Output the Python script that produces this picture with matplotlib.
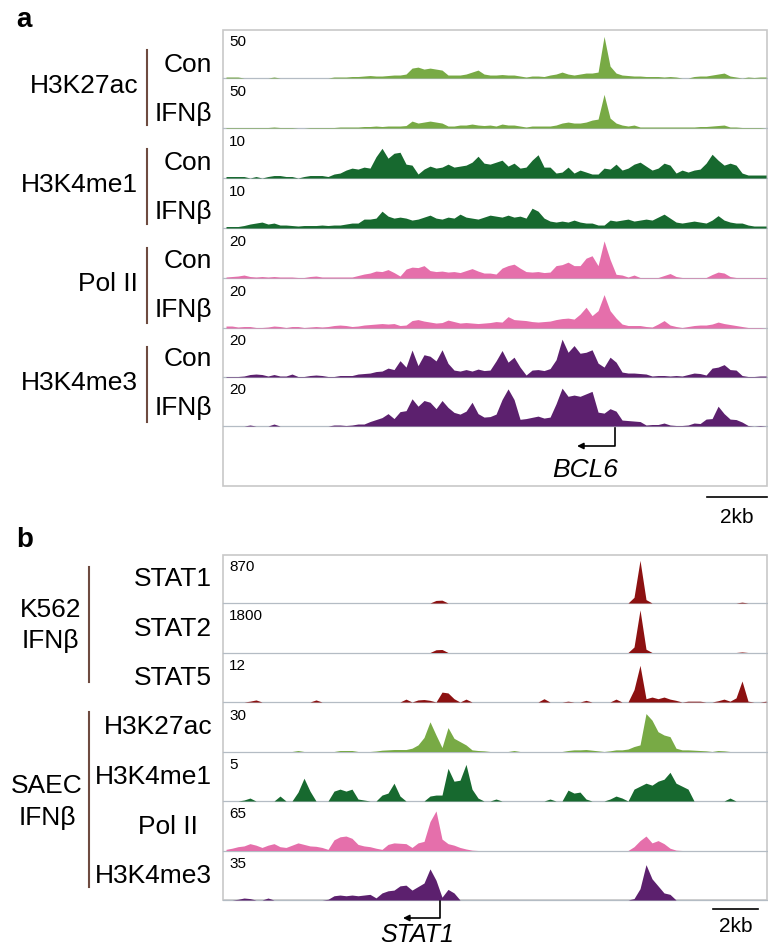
import numpy as np
import matplotlib
matplotlib.use('Agg')
import matplotlib.pyplot as plt
from matplotlib.patches import Rectangle

plt.rcParams['font.family'] = ['Liberation Sans', 'DejaVu Sans']

# ---------------------------------------------
# Data (signal per bin, in track units)
# ---------------------------------------------
# panel a: 0.2 kb bins over ~18 kb around BCL6
span_a = 18.13
pos_a = 0.1 + 0.2 * np.arange(91)

a_k27_con = [1, 1, 1, 0, 0, 0, 0, 0, 1, 0,
             0, 0, 0, 0, 0, 0, 0, 0, 1, 1,
             1, 1.5, 1.5, 2, 2.5, 2, 2, 2.5, 3, 3,
             4, 10, 11, 9, 10, 9, 8, 3, 3, 3,
             4, 6, 8, 4, 3, 3, 3.5, 3, 3, 2,
             1, 2, 2, 1.5, 3, 4, 6, 4, 3, 4,
             5, 5, 6, 42, 12, 5, 3, 2.5, 2, 2,
             1.5, 1.5, 1.5, 1, 1.5, 1, 0, 0, 1.5, 2,
             2, 3, 4, 5, 2, 1, 0, 1, 0.5, 1,
             1]
a_k27_ifn = [0.5, 0.5, 0.5, 0.5, 0.5, 0.5, 0.5, 0.5, 1, 0.5,
             0.5, 0.5, 0, 0, 0.5, 0.5, 0.5, 0.5, 0.5, 1,
             1, 1, 1, 1.5, 1.5, 2, 1.5, 2, 2, 2,
             2.5, 7, 5, 6, 7, 6, 5, 2, 2, 3,
             3, 4, 3, 2.5, 3, 2, 4, 3, 3, 2,
             1, 2, 2, 2, 2, 3, 5, 6, 5, 5,
             6, 8, 9, 34, 10, 5, 3, 2, 3, 1,
             1, 1, 1, 1, 1, 1, 1, 1, 1, 1.5,
             1.5, 2, 2.5, 3, 1, 1, 0.5, 0.5, 0.5, 0.5,
             0]
a_k4me1_con = [0.3, 0.3, 0.3, 0.3, 0, 0.3, 0, 0.3, 0.5, 0.5,
               0.3, 0.3, 0, 0.3, 0.5, 0.5, 0.5, 0.3, 0.8, 1.0,
               1.6, 2.0, 1.8, 2.2, 2.0, 4.3, 6.0, 4.0, 5.0, 5.2,
               2.8, 2.6, 0.8, 1.8, 2.4, 2.0, 2.2, 2.8, 2.2, 2.4,
               2.6, 3.2, 4.4, 3.0, 2.8, 3.2, 3.6, 2.4, 3.0, 2.0,
               2.2, 3.6, 4.7, 2.2, 2.2, 1.0, 1.2, 2.2, 1.0, 1.6,
               1.2, 0.8, 0.8, 2.0, 1.8, 2.8, 1.6, 2.0, 2.8, 3.2,
               2.4, 1.6, 2.0, 3.0, 2.6, 1.0, 1.6, 1.2, 1.6, 1.8,
               3.0, 4.8, 3.6, 2.6, 3.0, 2.6, 1.0, 0.6, 0.6, 0.6,
               0.6]
a_k4me1_ifn = [0.3, 0.3, 0.3, 0.5, 0.8, 1.0, 1.2, 0.8, 1.0, 0.6,
               0.6, 0.5, 0.4, 0.5, 0.5, 0.5, 0.6, 0.5, 0.6, 0.6,
               0.8, 1.0, 1.0, 1.8, 1.8, 2.0, 3.4, 2.4, 2.0, 2.2,
               2.0, 1.6, 1.8, 2.2, 2.6, 2.0, 1.8, 2.2, 2.0, 2.8,
               2.2, 2.0, 1.8, 2.2, 2.6, 2.4, 2.2, 2.6, 2.2, 2.4,
               2.0, 4.0, 3.4, 2.0, 1.4, 1.2, 1.4, 1.2, 1.6, 1.2,
               1.0, 1.0, 0.6, 0.6, 1.6, 1.4, 1.6, 1.8, 1.4, 1.6,
               1.8, 1.6, 2.2, 2.8, 2.0, 1.2, 1.0, 1.2, 1.4, 1.2,
               1.0, 1.6, 2.5, 1.6, 1.2, 1.0, 1.0, 0.6, 0.4, 0.4,
               0.4]
a_pol_con = [0.4, 0.6, 0.8, 1.2, 0.6, 0.4, 0.6, 0.4, 0.6, 0.4,
             0.4, 0.4, 0.2, 0.2, 0.6, 0.8, 0.4, 0.4, 0.4, 0.4,
             0.4, 0.4, 1.0, 1.6, 2.0, 2.8, 2.6, 3.4, 2.2, 0.8,
             3.6, 4.4, 4.2, 5.0, 3.0, 2.6, 2.8, 2.4, 2.6, 2.2,
             3.0, 3.8, 2.8, 2.0, 2.0, 1.6, 4.0, 5.0, 5.6, 4.0,
             2.6, 2.4, 2.6, 2.2, 2.4, 5.0, 5.4, 6.4, 5.0, 5.0,
             8.0, 9.0, 5.0, 15.0, 7.5, 1.5, 1.2, 0.4, 1.2, 0.2,
             0.2, 0.2, 0.2, 1.0, 1.8, 0.6, 0.2, 0.2, 0.2, 0.2,
             0.2, 1.4, 2.4, 2.0, 0.6, 0.2, 0.2, 0.2, 0.2, 0.2,
             0.2]
a_pol_ifn = [0.8, 0.8, 0.4, 0.6, 0.6, 0.2, 0.2, 0.4, 0.8, 0.6,
             0.2, 0.6, 0.6, 0.2, 0.4, 0.6, 0.4, 0.6, 1.0, 1.2,
             1.0, 0.6, 0.8, 1.2, 1.4, 1.6, 1.8, 1.6, 1.8, 1.0,
             1.2, 3.0, 3.4, 2.8, 2.4, 2.0, 2.2, 3.2, 2.6, 2.0,
             2.2, 2.0, 1.8, 2.0, 2.2, 2.6, 2.4, 4.6, 3.4, 3.2,
             3.0, 2.6, 2.4, 2.6, 2.8, 3.4, 3.8, 4.0, 3.6, 5.6,
             8.4, 5.0, 7.0, 13.5, 7.0, 4.0, 1.6, 1.0, 1.0, 1.0,
             0.6, 0.4, 1.6, 3.0, 1.2, 0.6, 0.2, 0.6, 1.0, 1.2,
             1.2, 1.6, 2.4, 1.8, 1.4, 1.0, 0.6, 0.2, 0.2, 0.2,
             0]
a_k4me3_con = [0.2, 0.2, 0.2, 0.4, 1.0, 1.2, 1.0, 0.4, 1.0, 0.4,
               0.4, 1.2, 0.2, 0.2, 0.6, 0.8, 0.6, 0.2, 0.2, 0.6,
               0.6, 0.6, 1.2, 1.4, 1.6, 2.2, 2.4, 3.6, 3.0, 6.6,
               4.0, 10.9, 4.6, 9.0, 8.4, 6.5, 11.0, 5.5, 2.8, 2.4,
               3.0, 2.4, 3.2, 2.6, 2.8, 6.5, 10.7, 6.0, 8.0, 4.0,
               0.8, 2.8, 3.0, 2.6, 3.4, 7.0, 15.3, 10.0, 12.7, 9.6,
               10.0, 11.0, 5.6, 4.0, 8.0, 6.0, 2.0, 1.6, 1.6, 1.4,
               1.2, 0.4, 0.6, 0.6, 0.4, 0.6, 0.4, 1.0, 1.6, 1.4,
               0.8, 3.6, 4.0, 5.0, 3.0, 2.8, 0.6, 0.2, 0.2, 0.4,
               0.4]
a_k4me3_ifn = [0, 0, 0, 0, 0.4, 0, 0, 0, 0.8, 0,
               0, 0, 0, 0, 0, 0, 0, 0, 0.4, 0.4,
               0.2, 0.4, 0.8, 0.8, 1.8, 2.6, 3.4, 5.0, 3.0, 5.8,
               6.2, 11.0, 8.0, 10.3, 9.6, 7.0, 10.3, 7.5, 5.5, 4.8,
               6.0, 9.6, 5.0, 3.6, 3.8, 4.8, 10.7, 15.0, 10.7, 2.7,
               3.0, 3.5, 4.0, 3.2, 3.6, 9.0, 15.3, 12.0, 12.5, 12.0,
               13.0, 14.0, 5.6, 5.2, 7.0, 6.0, 2.4, 2.2, 2.0, 1.8,
               0.4, 0.6, 0.6, 1.2, 0.4, 0.2, 0.2, 0.4, 1.2, 1.0,
               2.8, 3.0, 8.0, 5.0, 2.8, 2.6, 1.6, 0.2, 0, 0.2,
               0]

# panel b: ~0.27 kb bins over ~24 kb around STAT1
span_b = 24.18
pos_b = 0.1333 + 0.2667 * np.arange(91)

b_stat1 = [0, 0, 0, 0, 0, 0, 0, 0, 0, 0,
           0, 0, 0, 0, 0, 0, 0, 0, 0, 0,
           0, 0, 0, 0, 0, 0, 0, 0, 0, 0,
           0, 0, 0, 0, 0, 45, 50, 0, 0, 0,
           0, 0, 0, 0, 0, 0, 0, 0, 0, 0,
           0, 0, 0, 0, 0, 0, 0, 0, 0, 0,
           0, 0, 0, 0, 0, 0, 0, 0, 100, 750,
           60, 0, 0, 0, 0, 0, 0, 0, 0, 0,
           0, 0, 0, 0, 0, 0, 15, 0, 0, 0,
           0]
b_stat2 = [0, 0, 0, 0, 0, 0, 0, 0, 0, 0,
           0, 0, 0, 0, 0, 0, 0, 0, 0, 0,
           0, 0, 0, 0, 0, 0, 0, 0, 0, 0,
           0, 0, 0, 0, 0, 100, 110, 0, 0, 0,
           0, 0, 0, 0, 0, 0, 0, 0, 0, 0,
           0, 0, 0, 0, 0, 0, 0, 0, 0, 0,
           0, 0, 0, 0, 0, 0, 0, 0, 200, 1550,
           120, 0, 0, 0, 0, 0, 0, 0, 0, 0,
           0, 0, 0, 0, 0, 0, 20, 0, 0, 0,
           0]
b_stat5 = [0, 0, 0, 0, 0.2, 0.5, 0, 0, 0, 0,
           0, 0, 0, 0, 0, 0.5, 0, 0, 0, 0,
           0, 0, 0, 0, 0, 0, 0, 0, 0, 0,
           0.7, 0, 0.5, 0.6, 0.4, 0, 2.4, 2.2, 0.8, 0,
           0.7, 0, 0, 0, 0, 0, 0, 0, 0, 0,
           0, 0, 0, 0.8, 0, 0, 0, 0.2, 0, 0,
           0.4, 0, 0, 0, 0, 0.7, 0, 0, 3.0, 8.9,
           0.8, 1.2, 0.8, 1.2, 0.7, 0.4, 0, 0.2, 0.2, 0.2,
           0, 0, 0.3, 0.7, 0.2, 1.0, 5.1, 0.2, 0, 0,
           0.2]
b_k27 = [0, 0, 0, 0, 0, 0, 0, 0, 0, 0,
         0, 0, 0.6, 0, 0, 0, 0, 0, 0, 0.6,
         0.6, 0.6, 0, 0, 0, 0.3, 0.8, 1.0, 1.2, 1.2,
         1.2, 2.0, 4.0, 8.5, 18.0, 10.0, 2.4, 14.5, 8.0, 6.0,
         4.0, 1.0, 0.6, 0.4, 0, 0, 0, 0, 0.6, 0,
         0, 0, 0, 0, 0, 0, 0, 0.6, 1.0, 1.0,
         1.2, 0.8, 0.4, 0, 0.4, 1.0, 1.0, 1.5, 3.0, 4.0,
         23.0, 19.0, 12.0, 10.0, 9.0, 2.0, 1.0, 1.0, 0.8, 0.6,
         0.4, 0, 0.6, 0.4, 0, 0, 0, 0, 0, 0,
         0]
b_k4me1 = [0, 0, 0, 0.1, 0.3, 0, 0, 0, 0, 0.5,
           0, 0, 0.9, 2.3, 1.0, 0, 0, 0, 1.0, 1.2,
           1.0, 1.2, 0.2, 0.1, 0, 0, 0.6, 0.8, 1.8, 0.5,
           0, 0, 0, 0, 0.5, 0.6, 0.6, 3.3, 2.0, 2.1,
           3.7, 1.2, 0.3, 0, 0, 0.2, 0, 0, 0, 0,
           0, 0, 0, 0, 0.2, 0, 0, 1.1, 0.8, 0.9,
           0.2, 0, 0, 0, 0.2, 0.5, 0.3, 0, 1.2, 1.5,
           1.8, 1.6, 2.0, 2.2, 2.9, 1.8, 1.5, 1.2, 0, 0,
           0, 0, 0, 0, 0.3, 0, 0, 0, 0, 0,
           0]
b_pol = [1.5, 3, 5, 6, 9, 7, 4, 7, 9, 5,
         4, 7, 10, 8, 6, 5.5, 4, 1.5, 14, 18,
         19, 16, 8, 6, 5, 3, 1.5, 8, 10, 9.5,
         9, 4, 10, 12, 38, 52, 15, 9, 7, 4,
         2, 0.5, 0, 0, 0, 0, 0, 0, 0, 0,
         0, 0, 0, 0, 0, 0, 0, 0, 0, 0,
         0, 0, 0, 0, 0, 0, 0, 0, 5, 13,
         19, 10, 13, 9, 3, 0.5, 0, 0, 0, 0,
         0, 0, 0, 0, 0, 0, 0, 0, 0, 0,
         0]
b_k4me3 = [0, 0, 0.5, 1.4, 1.0, 0, 0, 1.4, 0, 0,
           0, 0, 0, 0, 0, 0, 0, 0.5, 3.0, 3.5,
           3.0, 3.5, 3.0, 3.5, 4.0, 1.5, 5.0, 6.5, 7.0, 10.0,
           10.5, 7.0, 9.5, 12.0, 22.0, 14.0, 2.0, 7.5, 5.0, 0,
           0, 0, 0, 0, 0, 0, 0, 0, 0, 0,
           0, 0, 0, 0, 0, 0, 0, 0, 0, 0,
           0, 0, 0, 0, 0, 0, 0, 0, 1.0, 8.0,
           25.0, 15.0, 10.0, 5.0, 4.0, 0, 0, 0, 0, 0,
           0, 0, 0, 0, 0, 0, 0, 0, 0, 0,
           0]

# colours
C_K27 = '#78aa45'
C_K4ME1 = '#17692f'
C_POL = '#e56fab'
C_K4ME3 = '#5c206e'
C_STAT = '#8c1111'
C_BOX = '#c8c8c8'
C_BASE = '#b4bcc4'
C_BAR = '#6e4b40'

tracks_a = [  # (values, max, colour, condition)
    (a_k27_con, 50, C_K27, 'Con'), (a_k27_ifn, 50, C_K27, 'IFNβ'),
    (a_k4me1_con, 10, C_K4ME1, 'Con'), (a_k4me1_ifn, 10, C_K4ME1, 'IFNβ'),
    (a_pol_con, 20, C_POL, 'Con'), (a_pol_ifn, 20, C_POL, 'IFNβ'),
    (a_k4me3_con, 20, C_K4ME3, 'Con'), (a_k4me3_ifn, 20, C_K4ME3, 'IFNβ'),
]
groups_a = ['H3K27ac', 'H3K4me1', 'Pol II', 'H3K4me3']

tracks_b = [  # (values, max, colour, name)
    (b_stat1, 870, C_STAT, 'STAT1'), (b_stat2, 1800, C_STAT, 'STAT2'),
    (b_stat5, 12, C_STAT, 'STAT5'), (b_k27, 30, C_K27, 'H3K27ac'),
    (b_k4me1, 5, C_K4ME1, 'H3K4me1'), (b_pol, 65, C_POL, 'Pol II'),
    (b_k4me3, 35, C_K4ME3, 'H3K4me3'),
]

# ---------------------------------------------
# Layout (figure pixels)
# ---------------------------------------------
W, H = 768, 949
X0, X1 = 223, 767
TRACK_H = 49.5
FS = 19

fig = plt.figure(figsize=(W / 100, H / 100), dpi=100)
ov = fig.add_axes([0, 0, 1, 1])
ov.set_xlim(0, W)
ov.set_ylim(H, 0)
ov.axis('off')


def kb2px(kb, span):
    return X0 + kb * (X1 - X0) / span


def draw_track(base, pos, vals, ymax, span, color):
    ax = fig.add_axes([X0 / W, 1 - base / H, (X1 - X0) / W, TRACK_H / H])
    ax.fill_between(pos, 0, vals, color=color, lw=0)
    ax.set_xlim(0, span)
    ax.set_ylim(0, ymax)
    ax.axis('off')
    ov.plot([X0, X1], [base, base], color=C_BASE, lw=0.9)
    ov.text(229, base - 43, str(ymax), fontsize=11, ha='left', va='top')


def gene(tss, length, span, top):
    # minus-strand TSS arrow: down from the last track, then left
    x = kb2px(tss, span)
    xe = kb2px(tss - length, span)
    ov.plot([x, x, xe + 4], [top, top + 18, top + 18], color='black', lw=1.2)
    ov.annotate('', xy=(xe, top + 18), xytext=(xe + 6, top + 18),
                arrowprops=dict(arrowstyle='-|>', color='black', lw=1.2,
                                mutation_scale=9, shrinkA=0, shrinkB=0))


def scalebar(start, span, y, ytext):
    xa, xb = kb2px(start, span), kb2px(start + 2, span)
    ov.plot([xa, xb], [y, y], color='black', lw=1.2)
    ov.text((xa + xb) / 2, ytext, '2kb', fontsize=15, ha='center', va='baseline')


# ---- panel a ----
ov.text(16, 27, 'a', fontsize=20, fontweight='bold', va='baseline')
ov.add_patch(Rectangle((X0, 30), X1 - X0, 456, fill=False, ec=C_BOX, lw=1.2))
for k, (vals, ymax, col, cond) in enumerate(tracks_a):
    base = 78 + 50 * k if k < 6 else 78 + 50 * k - (k - 5)
    draw_track(base, pos_a, vals, ymax, span_a, col)
    ov.text(212, 72 + 49 * k, cond, fontsize=FS, ha='right', va='baseline')
for g, name in enumerate(groups_a):
    ov.text(138, 93 + 99 * g, name, fontsize=FS, ha='right', va='baseline')
    ov.plot([147, 147], [50 + 99 * g, 125 + 99 * g], color=C_BAR, lw=1.5)

gene(13.07, 1.27, span_a, 428)
ov.text(585, 477, 'BCL6', fontsize=19, style='italic', ha='center', va='baseline')
scalebar(16.13, span_a, 497, 523)

# ---- panel b ----
ov.text(16, 547, 'b', fontsize=20, fontweight='bold', va='baseline')
ov.add_patch(Rectangle((X0, 555), X1 - X0, 345, fill=False, ec=C_BOX, lw=1.2))
for k, (vals, ymax, col, name) in enumerate(tracks_b):
    base = 603 + 49.5 * k
    draw_track(base, pos_b, vals, ymax, span_b, col)
    xr = 198 if name == 'Pol II' else 212
    ov.text(xr, base - 17, name, fontsize=FS, ha='right', va='baseline')

ov.text(51, 617, 'K562', fontsize=FS, ha='center', va='baseline')
ov.text(50, 648, 'IFNβ', fontsize=FS, ha='center', va='baseline')
ov.plot([89, 89], [567, 682], color=C_BAR, lw=1.5)
ov.text(47, 793, 'SAEC', fontsize=FS, ha='center', va='baseline')
ov.text(47, 825, 'IFNβ', fontsize=FS, ha='center', va='baseline')
ov.plot([89, 89], [712, 887], color=C_BAR, lw=1.5)

gene(9.64, 1.64, span_b, 900)
ov.text(417, 942, 'STAT1', fontsize=18, style='italic', ha='center', va='baseline')
scalebar(21.8, span_b, 909, 932)

fig.savefig('out.png', dpi=100, facecolor='white')
